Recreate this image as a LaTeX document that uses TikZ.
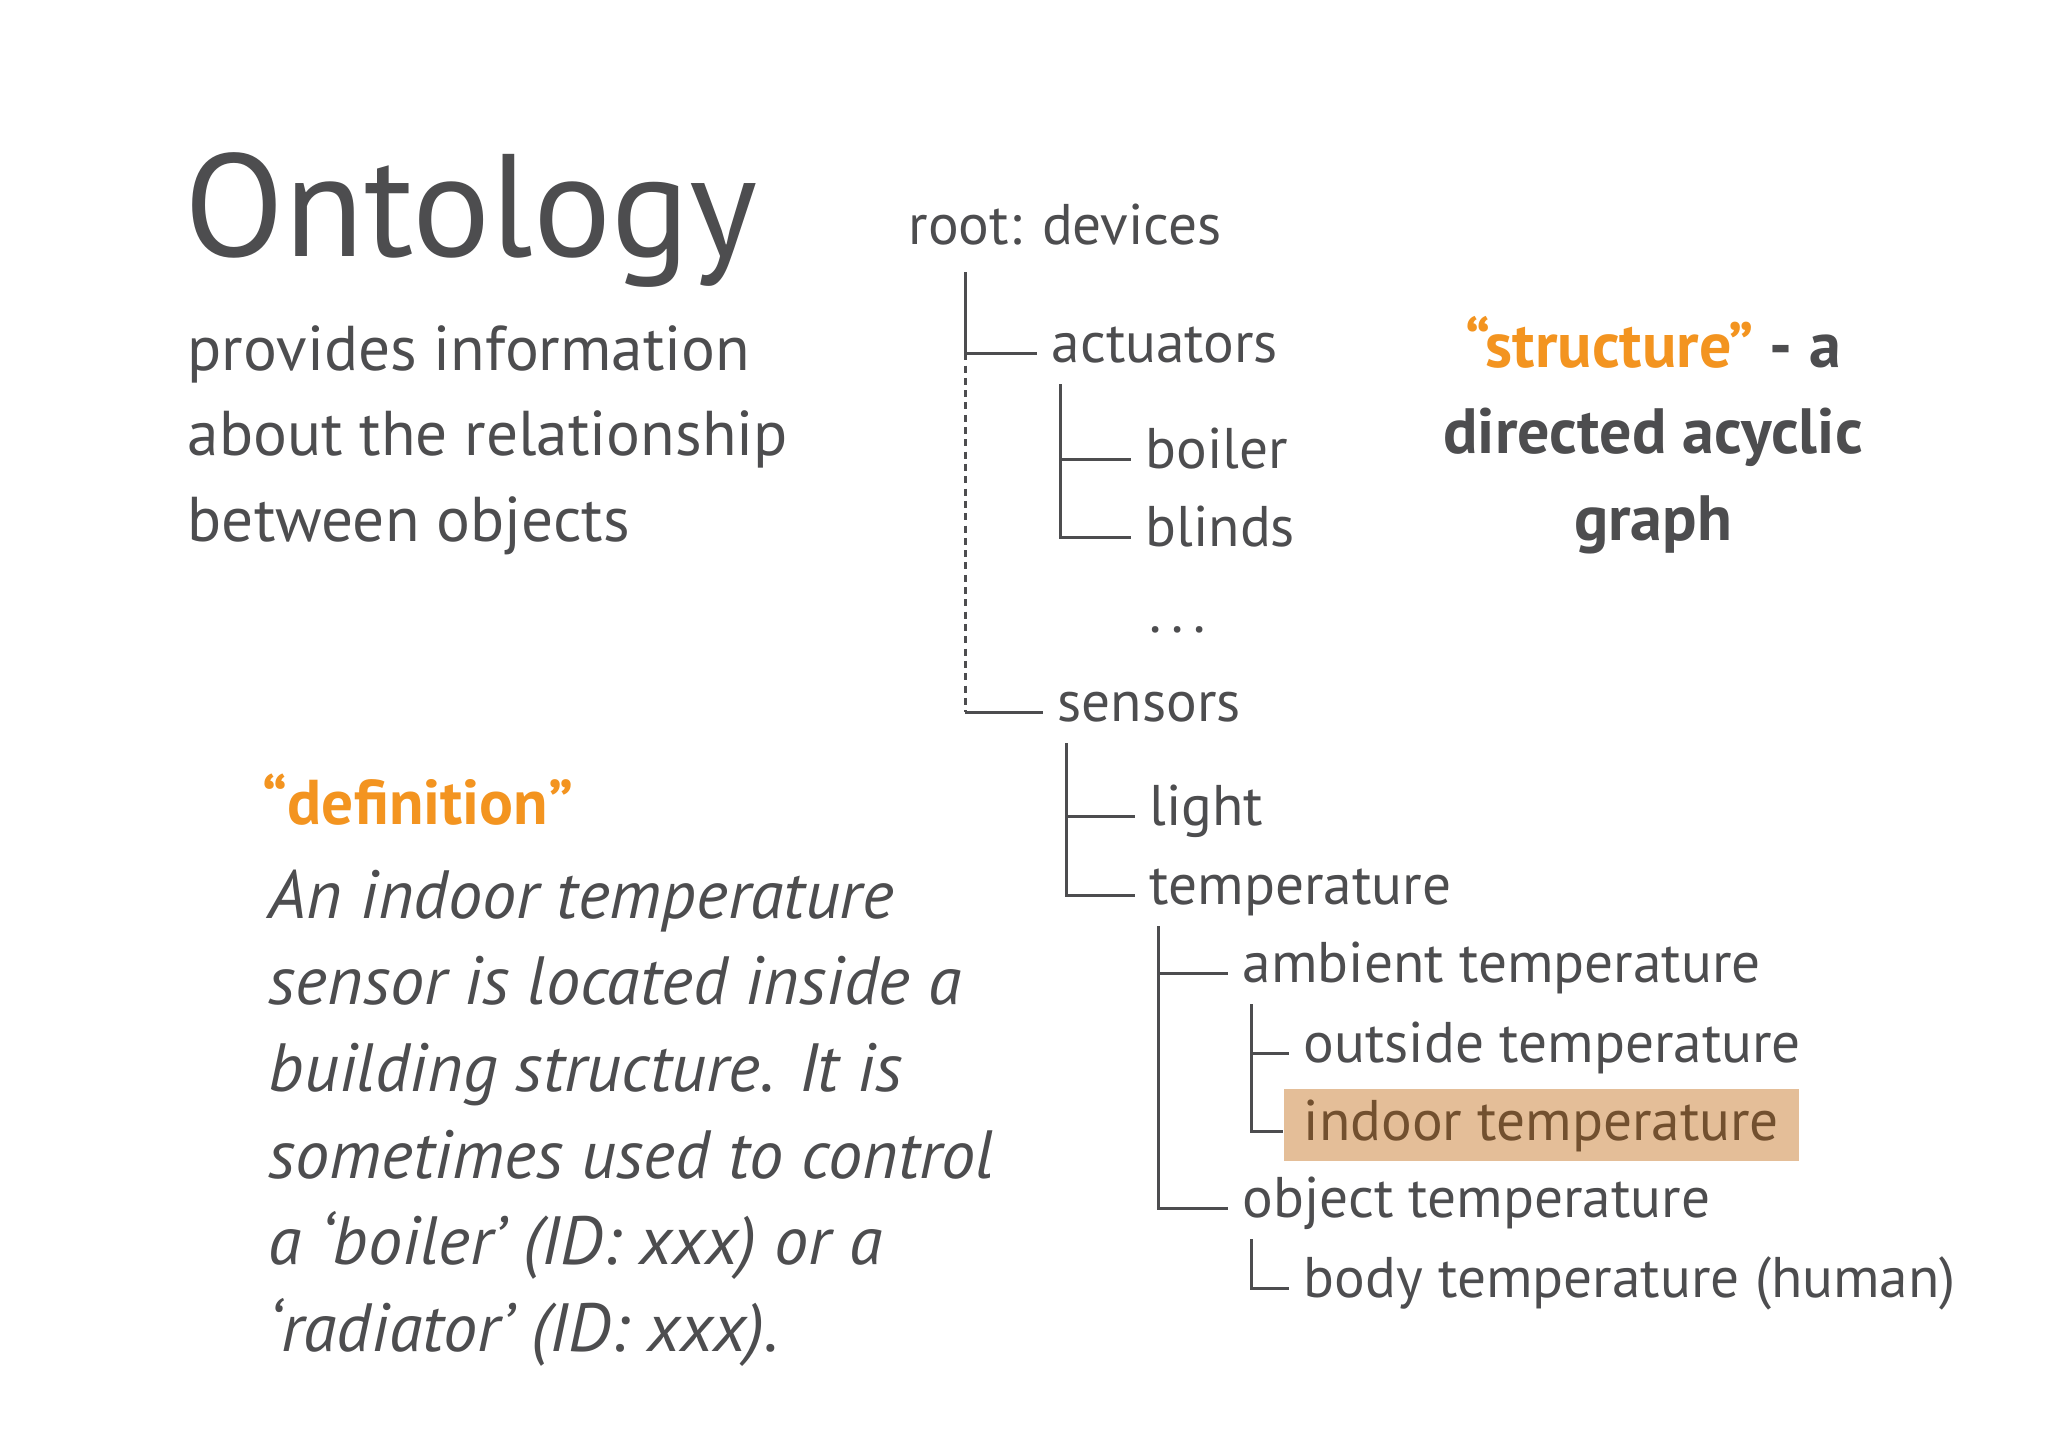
\documentclass[tikz,border=0pt]{standalone}
\usepackage{fontspec}
\setmainfont{PT Sans}
\usetikzlibrary{calc}
\definecolor{slate}{HTML}{4D4D4F}
\definecolor{tangerine}{HTML}{F39420}
\definecolor{peach}{HTML}{E4BE98}
\definecolor{umber}{HTML}{72502F}

\begin{document}
\begin{tikzpicture}[x=0.01cm, y=-0.01cm,
    every node/.style={text=slate},
    term/.style={anchor=base west, inner xsep=0.14cm, inner ysep=0pt, font=\fontsize{16.3}{19}\selectfont},
    hilite/.style={term, fill=peach, text=umber, inner xsep=0.2cm, inner ysep=0.1cm},
    branch/.style={draw=slate, line width=0.85pt}]
    \useasboundingbox[fill=white] (0,0) rectangle (2048,1448);

    % left: title and definition (multi-line nodes sit on their last line)
    \node[anchor=base west, inner sep=0pt, font=\fontsize{41.5}{49}\selectfont] (title) at (184,256) {Ontology};
    \node[anchor=base west, inner sep=0pt, align=left, font=\fontsize{18}{24.3}\selectfont] (about) at (187,541)
        {provides information\\about the relationship\\between objects};
    \node[anchor=base west, inner sep=0pt, text=tangerine, font=\bfseries\fontsize{18}{20}\selectfont] (defhead) at (262,824) {“definition”};
    \node[anchor=base west, inner sep=0pt, align=left, font=\itshape\fontsize{19.4}{24.6}\selectfont] (deftext) at (268,1351)
        {An indoor temperature\\sensor is located inside a\\building structure. It is\\sometimes used to control\\a ‘boiler’ (ID: xxx) or a\\‘radiator’ (ID: xxx).};

    % right: structure note
    \node[anchor=base, inner sep=0pt, align=center, font=\bfseries\fontsize{18.2}{24.5}\selectfont] (dag) at (1653,540)
        {\textcolor{tangerine}{“structure”} - a\\directed acyclic\\graph};

    % the tree
    \node[term] (root) at (894,244) {root: devices};
    \node[term] (act)  at (1037,362) {actuators};
    \node[term] (boil) at (1131,468) {boiler};
    \node[term] (blin) at (1131,546) {blinds};
    \node[term] (more) at (1135,632) {.\,.\,.};
    \node[term] (sens) at (1043,721) {sensors};
    \node[term] (lig)  at (1135,825) {light};
    \node[term] (temp) at (1135,904) {temperature};
    \node[term] (amb)  at (1228,982) {ambient temperature};
    \node[term] (outs) at (1289,1062) {outside temperature};
    \node[hilite] (ind) at (1283,1140) {indoor temperature};
    \node[term] (obj)  at (1228,1217) {object temperature};
    \node[term] (body) at (1289,1297) {body temperature (human)};

    \coordinate (drop) at ([shift={(71,28)}]root.base west);
    \draw[branch] (drop) |- (act.mid west);
    \draw[branch, dash pattern=on 2pt off 1.5pt] (drop |- act.mid west) -- (drop |- sens.mid west);
    \draw[branch] (drop |- sens.mid west) -- (sens.mid west);
    \foreach \p/\c in {act/boil, act/blin, sens/lig, sens/temp, temp/amb, temp/obj, amb/outs, amb/ind, obj/body}
        \draw[branch] ([shift={(23,22)}]\p.base west) |- (\c.mid west);
\end{tikzpicture}
\end{document}
